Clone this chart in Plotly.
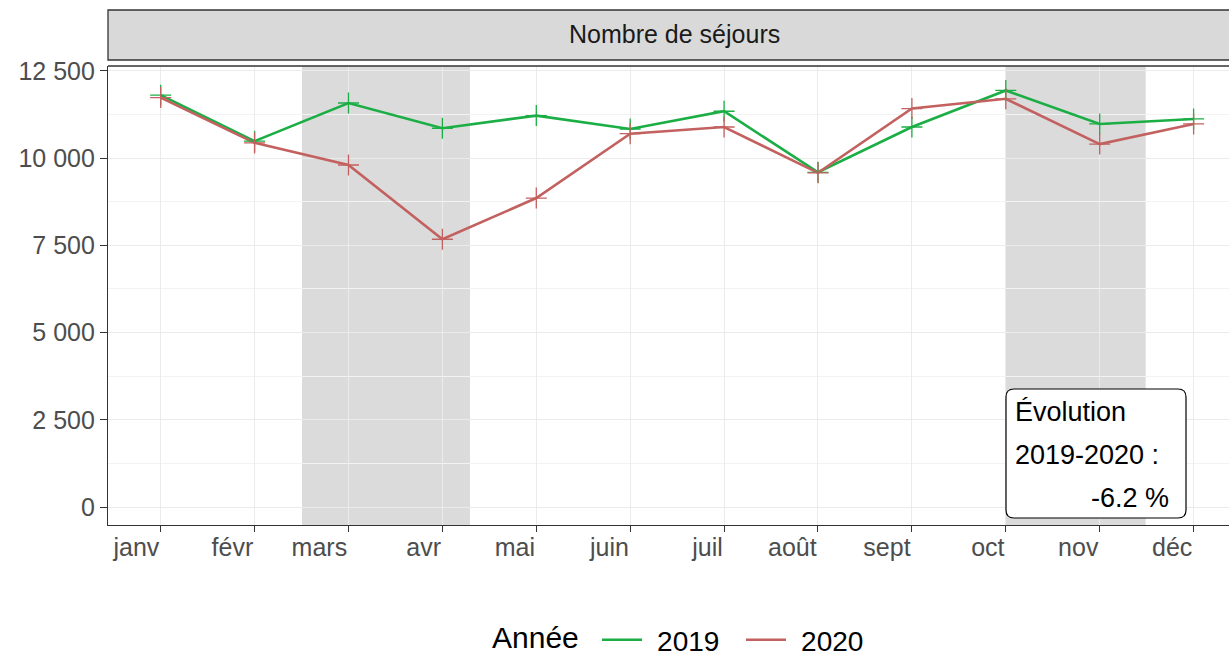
import plotly.graph_objects as go

# ---------------- data ----------------
months = ["janv", "févr", "mars", "avr", "mai", "juin",
          "juil", "août", "sept", "oct", "nov", "déc"]
sejours_2019 = [11807, 10488, 11582, 10859, 11221, 10837,
                11346, 9596, 10894, 11942, 10981, 11125]
sejours_2020 = [11738, 10439, 9805, 7676, 8857, 10702,
                10894, 9580, 11423, 11702, 10404, 10981]
years = ["2019", "2020"]
colors = {"2019": "#1BAE45", "2020": "#C2615F"}
# shaded periods (in month-index units)
shade_start = [1.505, 8.995]
shade_end = [3.294, 10.49]
evolution_label = ["Évolution", "2019-2020 :", "-6.2 %"]
y_ticks = [0, 2500, 5000, 7500, 10000, 12500]

# ---------------- geometry ----------------
W, H = 1229, 656
ML, MR, MT, MB = 108, 0, 66, 131
PW = W - ML - MR
PH = H - MT - MB

def pxx(px):
    return (px - ML) / PW

def pxy(py):
    return (H - MB - py) / PH

FONT = "Arial, Liberation Sans, sans-serif"
x_idx = list(range(len(months)))

fig = go.Figure()
series = {"2019": sejours_2019, "2020": sejours_2020}
for yr in years:
    fig.add_trace(go.Scatter(
        x=x_idx, y=series[yr], mode="lines", name="\u00a0\u200a" + yr,
        line=dict(color=colors[yr], width=2.6), legendgroup=yr,
    ))
for yr in years:
    fig.add_trace(go.Scatter(
        x=x_idx, y=series[yr], mode="markers", name=yr, showlegend=False,
        legendgroup=yr,
        marker=dict(symbol="cross-thin-open", size=15, color=colors[yr],
                    line=dict(color=colors[yr], width=1.3)),
    ))

shapes = []
for s0, s1 in zip(shade_start, shade_end):
    shapes.append(dict(type="rect", xref="x", yref="paper", x0=s0, x1=s1,
                       y0=0, y1=1, fillcolor="rgba(0,0,0,0.14)",
                       line=dict(width=0), layer="between"))

# strip
shapes.append(dict(type="rect", xref="paper", yref="paper",
                   x0=0, x1=1.02, y0=pxy(60), y1=pxy(10),
                   fillcolor="#D9D9D9", line=dict(color="#333333", width=1.3),
                   layer="above"))
# top panel border
shapes.append(dict(type="line", xref="paper", yref="paper",
                   x0=0, x1=1.02, y0=1, y1=1,
                   line=dict(color="#333333", width=1.3), layer="above"))

# rounded annotation box (pixel-based -> paper)
bx0, bx1, by0, by1, r = pxx(1006), pxx(1186), pxy(518), pxy(389), 8
rx, ry = r / PW, r / PH
path = (f"M {bx0+rx},{by0} L {bx1-rx},{by0} Q {bx1},{by0} {bx1},{by0+ry} "
        f"L {bx1},{by1-ry} Q {bx1},{by1} {bx1-rx},{by1} "
        f"L {bx0+rx},{by1} Q {bx0},{by1} {bx0},{by1-ry} "
        f"L {bx0},{by0+ry} Q {bx0},{by0} {bx0+rx},{by0} Z")
shapes.append(dict(type="path", xref="paper", yref="paper", path=path,
                   fillcolor="white", line=dict(color="black", width=1.2),
                   layer="above"))

annotations = [
    dict(text="Nombre de séjours", xref="paper", yref="paper",
         x=pxx(674), y=pxy(34), xanchor="center", yanchor="middle",
         showarrow=False, font=dict(family=FONT, size=25, color="#1A1A1A")),
    dict(text=evolution_label[0], xref="paper", yref="paper",
         x=pxx(1013), y=pxy(412), xanchor="left", yanchor="middle",
         showarrow=False, font=dict(family=FONT, size=27, color="black")),
    dict(text=evolution_label[1], xref="paper", yref="paper",
         x=pxx(1013), y=pxy(455), xanchor="left", yanchor="middle",
         showarrow=False, font=dict(family=FONT, size=27, color="black")),
    dict(text=evolution_label[2], xref="paper", yref="paper",
         x=pxx(1171), y=pxy(498), xanchor="right", yanchor="middle",
         showarrow=False, font=dict(family=FONT, size=27, color="black")),
    # legend title
    dict(text="Année", xref="paper", yref="paper",
         x=pxx(580), y=pxy(637), xanchor="right", yanchor="middle",
         borderpad=0,
         showarrow=False, font=dict(family=FONT, size=30, color="black")),
]

fig.update_layout(
    width=W, height=H,
    margin=dict(l=ML, r=MR, t=MT, b=MB, pad=0, autoexpand=False),
    paper_bgcolor="white", plot_bgcolor="white",
    separators=". ",
    shapes=shapes, annotations=annotations,
    font=dict(family=FONT),
    showlegend=True,
    legend=dict(orientation="h", x=597 / W, y=1 - 640 / H,
                xref="container", yref="container",
                xanchor="left", yanchor="middle",
                font=dict(family=FONT, size=28, color="black"),
                itemwidth=40, entrywidth=89, entrywidthmode="pixels",
                bgcolor="rgba(0,0,0,0)"),
    hovermode=False,
)

fig.update_xaxes(
    range=[-0.561, 11.377], tickvals=x_idx, ticktext=months,
    ticklabelposition="outside left", automargin=False,
    showgrid=True, gridcolor="#EBEBEB", gridwidth=1.4,
    showline=True, linecolor="#333333", linewidth=1.3,
    ticks="outside", ticklen=6, tickwidth=1.3, tickcolor="#333333",
    tickfont=dict(family=FONT, size=25, color="#4D4D4D"),
    zeroline=False,
)
fig.update_yaxes(
    range=[-516, 12643], tickvals=y_ticks, tickformat=",d", automargin=False,
    showgrid=True, gridcolor="#EBEBEB", gridwidth=1.4,
    minor=dict(dtick=1250, tick0=0, showgrid=True, gridcolor="#F3F3F3", gridwidth=1),
    showline=True, linecolor="#333333", linewidth=1.3,
    ticks="outside", ticklen=7, tickwidth=1.3, tickcolor="#333333",
    tickfont=dict(family=FONT, size=25, color="#4D4D4D"),
    zeroline=False,
)

fig.write_html(
    "out.html",
    config={"displayModeBar": False},
    post_script="document.body.style.margin='0';document.body.style.padding='0';",
)
